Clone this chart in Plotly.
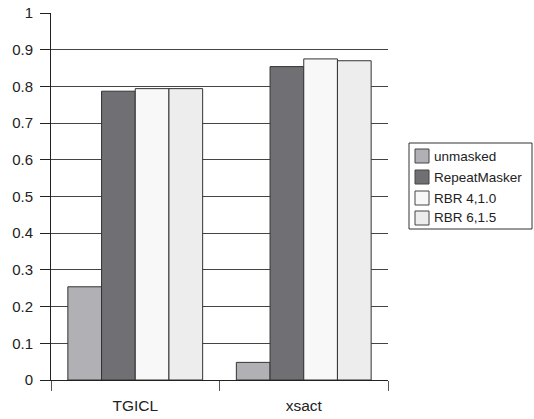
import plotly.graph_objects as go

categories = ["TGICL", "xsact"]
series_names = ["unmasked", "RepeatMasker", "RBR 4,1.0", "RBR 6,1.5"]
unmasked = [0.254, 0.048]
repeatmasker = [0.787, 0.854]
rbr_4_1_0 = [0.794, 0.875]
rbr_6_1_5 = [0.794, 0.870]
y_ticks = [0, 0.1, 0.2, 0.3, 0.4, 0.5, 0.6, 0.7, 0.8, 0.9, 1]
y_tick_labels = ["0", "0.1", "0.2", "0.3", "0.4", "0.5", "0.6", "0.7", "0.8", "0.9", "1"]

colors = ["#b1b1b5", "#707074", "#f8f8f8", "#ededed"]
values = [unmasked, repeatmasker, rbr_4_1_0, rbr_6_1_5]

W, H = 534, 419
PX0, PX1, PY0, PY1 = 51, 388, 13, 380  # plot area in window pixels
ML, MR = PX0, W - PX1
MT, MB = PY0, H - PY1
PW, PH = PX1 - PX0, PY1 - PY0


def px_x(p):
    return (p - PX0) / PW


def px_y(p):
    return (PY1 - p) / PH


fig = go.Figure()
for name, vals, col in zip(series_names, values, colors):
    fig.add_trace(go.Bar(
        x=categories, y=vals, name=name,
        marker=dict(color=col, line=dict(color="#333333", width=1)),
    ))

# Legend drawn as a boxed list on the right
shapes = [dict(type="rect", xref="paper", yref="paper",
               x0=px_x(409), x1=px_x(532), y0=px_y(229), y1=px_y(143),
               line=dict(color="#333333", width=1), fillcolor="white", layer="above")]
annotations = []
row_centers = [156, 177, 198, 218]
for name, col, cy in zip(series_names, colors, row_centers):
    shapes.append(dict(type="rect", xref="paper", yref="paper",
                       x0=px_x(415), x1=px_x(429), y0=px_y(cy + 7), y1=px_y(cy - 7),
                       line=dict(color="#444444", width=1), fillcolor=col, layer="above"))
    annotations.append(dict(xref="paper", yref="paper", x=px_x(432), y=px_y(cy),
                            xanchor="left", yanchor="middle", text=name, showarrow=False,
                            font=dict(size=13.5, color="#222222")))

font_family = "Liberation Sans, Arial, sans-serif"
fig.update_layout(
    width=W, height=H,
    margin=dict(l=ML, r=MR, t=MT, b=MB, autoexpand=False),
    paper_bgcolor="white", plot_bgcolor="white",
    barmode="group", bargap=0.2, bargroupgap=0,
    font=dict(family=font_family, size=15, color="#222222"),
    showlegend=False,
    shapes=shapes, annotations=annotations,
    xaxis=dict(
        showline=True, linecolor="#222222", linewidth=1,
        ticks="outside", ticklen=10, tickcolor="#555555",
        tickson="boundaries", showgrid=False, automargin=False,
        tickfont=dict(size=15.5), ticklabelstandoff=11,
    ),
    yaxis=dict(
        range=[0, 1.0001], tickvals=y_ticks, ticktext=y_tick_labels,
        showline=True, linecolor="#222222", linewidth=1,
        ticks="outside", ticklen=10, tickcolor="#222222",
        showgrid=True, gridcolor="#444444", gridwidth=1,
        zeroline=False, tickfont=dict(size=15), automargin=False,
        ticklabelstandoff=4, ticklabeloverflow="allow",
    ),
)

fig.write_html(
    "out.html",
    config={"displayModeBar": False},
    post_script="document.body.style.margin='0px';document.body.style.overflow='hidden';",
)
